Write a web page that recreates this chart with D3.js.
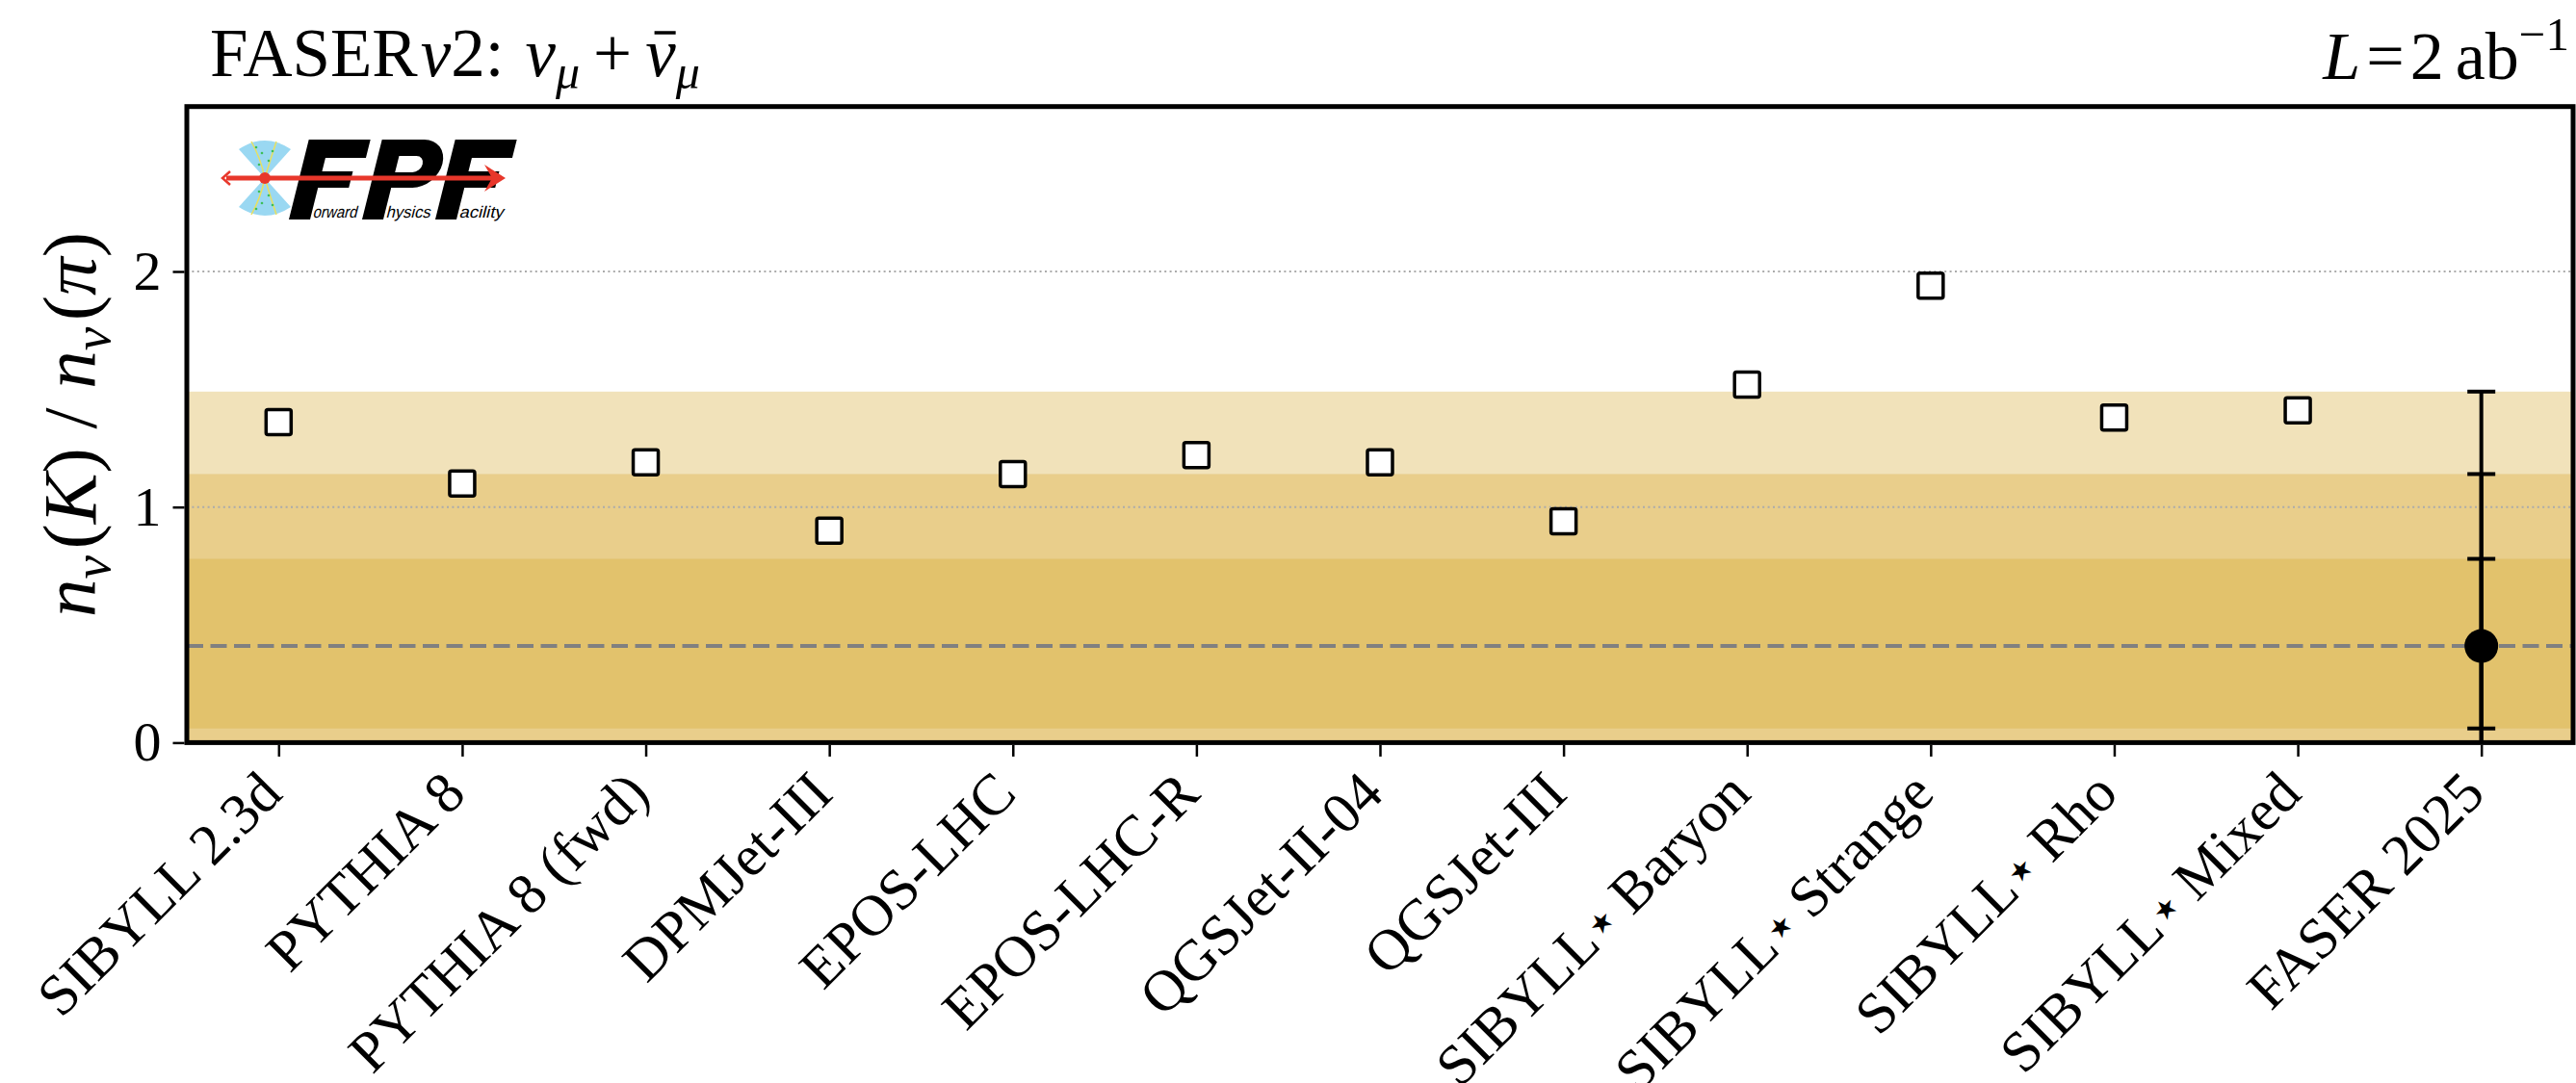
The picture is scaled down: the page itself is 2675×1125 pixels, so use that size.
<!DOCTYPE html>
<html>
<head>
<meta charset="utf-8">
<script src="https://cdn.jsdelivr.net/npm/d3@7"></script>
<style>
  html, body { margin: 0; padding: 0; background: #ffffff; }
  svg { display: block; }
  text { font-family: "Liberation Serif", "Times New Roman", serif; fill: #000; }
</style>
</head>
<body>
<script>
// Generator names along the x axis ("⋆" marks the SIBYLL★ variants)
const models = [
  "SIBYLL 2.3d", "PYTHIA 8", "PYTHIA 8 (fwd)", "DPMJet-III", "EPOS-LHC",
  "EPOS-LHC-R", "QGSJet-II-04", "QGSJet-III", "SIBYLL⋆ Baryon",
  "SIBYLL⋆ Strange", "SIBYLL⋆ Rho", "SIBYLL⋆ Mixed", "FASER 2025"
];
// Predicted n_nu(K)/n_nu(pi) for each generator (all but the last category)
const predictions = [1.36, 1.10, 1.19, 0.90, 1.14, 1.22, 1.19, 0.94, 1.52, 1.94, 1.38, 1.41];
// Projected FASERnu2 measurement: central value and 1/2/3 sigma intervals
const measured = 0.41;
const sigmaUpper = [0.78, 1.14, 1.49];
const sigmaLower = [0.06, -0.32, -0.67];
const bandColors = ["#E2C26C", "#E9CE8B", "#F1E2BA"];
const yTicks = [0, 1, 2];
const yDomain = [0, 2.7];

const W = 2675, H = 1125;
const plot = { left: 194, right: 2672, top: 110.7, bottom: 771.4 };

const svg = d3.select("body").append("svg")
  .attr("width", W).attr("height", H)
  .attr("viewBox", `0 0 ${W} ${H}`);

const x = d3.scaleLinear().domain([-0.5, models.length - 0.5]).range([plot.left, plot.right]);
const y = d3.scaleLinear().domain(yDomain).range([plot.bottom, plot.top]);

svg.append("defs").append("clipPath").attr("id", "plot-clip")
  .append("rect")
  .attr("x", plot.left).attr("y", plot.top)
  .attr("width", plot.right - plot.left).attr("height", plot.bottom - plot.top);

const inner = svg.append("g").attr("clip-path", "url(#plot-clip)");

// sigma bands, widest first
const bands = d3.range(sigmaUpper.length).reverse();
inner.selectAll("rect.band").data(bands).enter().append("rect")
  .attr("class", "band")
  .attr("x", plot.left).attr("width", plot.right - plot.left)
  .attr("y", i => y(sigmaUpper[i]))
  .attr("height", i => y(sigmaLower[i]) - y(sigmaUpper[i]))
  .attr("fill", i => bandColors[i]);

// dotted horizontal grid
inner.selectAll("line.grid").data(yTicks).enter().append("line")
  .attr("class", "grid")
  .attr("x1", plot.left).attr("x2", plot.right)
  .attr("y1", d => y(d)).attr("y2", d => y(d))
  .attr("stroke", "#ababab").attr("stroke-width", 2)
  .attr("stroke-dasharray", "2,3.4");

// central value reference line
inner.append("line")
  .attr("x1", plot.left).attr("x2", plot.right)
  .attr("y1", y(measured)).attr("y2", y(measured))
  .attr("stroke", "#808080").attr("stroke-width", 4)
  .attr("stroke-dasharray", "17,7.5");

// generator predictions: open squares
const sq = 26;
inner.selectAll("rect.pred").data(predictions).enter().append("rect")
  .attr("class", "pred")
  .attr("x", (d, i) => x(i) - sq / 2)
  .attr("y", d => y(d) - sq / 2)
  .attr("width", sq).attr("height", sq)
  .attr("rx", 2)
  .attr("fill", "#ffffff").attr("stroke", "#000").attr("stroke-width", 3.5);

// measurement with nested error bars
const mi = models.length - 1;
const eb = inner.append("g");
sigmaUpper.forEach((up, k) => {
  eb.append("line")
    .attr("x1", x(mi)).attr("x2", x(mi))
    .attr("y1", y(sigmaLower[k])).attr("y2", y(up))
    .attr("stroke", "#000").attr("stroke-width", 4);
  [up, sigmaLower[k]].forEach(v => {
    eb.append("line")
      .attr("x1", x(mi) - 14.5).attr("x2", x(mi) + 14.5)
      .attr("y1", y(v)).attr("y2", y(v))
      .attr("stroke", "#000").attr("stroke-width", 4);
  });
});
eb.append("circle")
  .attr("cx", x(mi)).attr("cy", y(measured)).attr("r", 17.5)
  .attr("fill", "#000");

// axes frame
svg.append("rect")
  .attr("x", plot.left).attr("y", plot.top)
  .attr("width", plot.right - plot.left).attr("height", plot.bottom - plot.top)
  .attr("fill", "none").attr("stroke", "#000").attr("stroke-width", 5);

// y axis
const yAxis = d3.axisLeft(y).tickValues(yTicks).tickFormat(d3.format("d"))
  .tickSize(12).tickPadding(12);
const gy = svg.append("g").attr("transform", `translate(${plot.left - 2.5},0)`).call(yAxis);
gy.select(".domain").remove();
gy.selectAll(".tick line").attr("stroke", "#000").attr("stroke-width", 2.5);
gy.selectAll(".tick text")
  .style("font-family", '"Liberation Serif", serif')
  .attr("font-size", 58).attr("fill", "#000");

// x axis with rotated model names
const xAxis = d3.axisBottom(x).tickValues(d3.range(models.length)).tickSize(12).tickFormat("");
const gx = svg.append("g").attr("transform", `translate(0,${plot.bottom + 2.5})`).call(xAxis);
gx.select(".domain").remove();
gx.selectAll(".tick line").attr("stroke", "#000").attr("stroke-width", 2.5);

const xl = svg.append("g").selectAll("text").data(models).enter().append("text")
  .attr("transform", (d, i) => `translate(${x(i) + 6},${827}) rotate(-45)`)
  .attr("text-anchor", "end")
  .attr("font-size", 60);
xl.each(function (d) {
  const t = d3.select(this);
  const parts = d.split("⋆");
  if (parts.length === 1) { t.text(d); return; }
  t.append("tspan").text(parts[0]);
  t.append("tspan").text("★").attr("font-size", 28)
    .style("font-family", '"DejaVu Sans", sans-serif')
    .attr("dx", 4).attr("dy", -9);
  t.append("tspan").text(parts[1]).attr("dy", 9);
});

// y axis title
const yt = svg.append("text")
  .attr("transform", `translate(99,${(plot.top + plot.bottom) / 2}) rotate(-90)`)
  .attr("text-anchor", "middle")
  .attr("font-size", 79);
const sub = (el, s) => {
  el.append("tspan").text(s).attr("font-style", "italic").attr("font-size", 55).attr("dy", 15);
  el.append("tspan").text("\u200a").attr("dy", -15);
};
yt.append("tspan").text("n").attr("font-style", "italic");
sub(yt, "ν");
yt.append("tspan").text("(");
yt.append("tspan").text("K").attr("font-style", "italic");
yt.append("tspan").text(") / ");
yt.append("tspan").text("n").attr("font-style", "italic");
sub(yt, "ν");
yt.append("tspan").text("(");
yt.append("tspan").text("π").attr("font-style", "italic");
yt.append("tspan").text(")");

// title on the left
const tt = svg.append("text").attr("x", 218).attr("y", 79).attr("font-size", 71);
tt.append("tspan").text("FASER");
tt.append("tspan").text("ν").attr("font-style", "italic").attr("dx", 3);
tt.append("tspan").text("2:");
tt.append("tspan").text("ν").attr("font-style", "italic").attr("dx", 22);
tt.append("tspan").text("μ").attr("font-style", "italic").attr("font-size", 50).attr("dy", 13);
tt.append("tspan").text("+").attr("dy", -13).attr("dx", 14);
const nuBar = tt.append("tspan").text("ν").attr("font-style", "italic").attr("dx", 14);
tt.append("tspan").text("μ").attr("font-style", "italic").attr("font-size", 50).attr("dy", 13);
{
  const e = nuBar.node().getExtentOfChar(0);
  svg.append("line")
    .attr("x1", e.x + e.width * 0.3).attr("x2", e.x + e.width * 1.0)
    .attr("y1", 34).attr("y2", 34)
    .attr("stroke", "#000").attr("stroke-width", 3.5);
}

// luminosity on the right
const lt = svg.append("text").attr("x", 2668).attr("y", 82).attr("text-anchor", "end").attr("font-size", 70);
lt.append("tspan").text("L").attr("font-style", "italic");
lt.append("tspan").text("=").attr("dx", 6);
lt.append("tspan").text("2").attr("dx", 6);
lt.append("tspan").text("ab").attr("dx", 12);
lt.append("tspan").text("−1").attr("font-size", 49).attr("dy", -30);

// FPF logo: detector cones, beam arrow and slanted block letters
const logo = svg.append("g").attr("transform", "translate(275,185)");
const cone = d3.path();
cone.moveTo(0, 0); cone.lineTo(-27, -30);
cone.quadraticCurveTo(0, -48, 27, -30); cone.closePath();
logo.append("path").attr("d", cone.toString()).attr("fill", "#9AD8F2");
logo.append("path").attr("d", cone.toString()).attr("fill", "#9AD8F2").attr("transform", "scale(1,-1)");
[-1, 1].forEach(s => {
  logo.append("path")
    .attr("d", `M0,0 Q${-4},${s * -20} ${-14},${s * -38}`)
    .attr("fill", "none").attr("stroke", "#E8E060").attr("stroke-width", 1.5);
  logo.append("path")
    .attr("d", `M0,0 Q${6},${s * -20} ${12},${s * -38}`)
    .attr("fill", "none").attr("stroke", "#E8E060").attr("stroke-width", 1.5);
  [[-6, -14], [4, -18], [-3, -26], [8, -28], [-9, -32]].forEach(([dx, dy]) => {
    logo.append("circle").attr("cx", dx).attr("cy", s * dy).attr("r", 1.3).attr("fill", "#3DBE5A");
  });
});
const letters = logo.append("g").attr("transform", "translate(25,43) skewX(-14)");
const letterF = ox =>
  `M${ox},0 V-83 H${ox + 64} V-64 H${ox + 22} V-50 H${ox + 54} V-33 H${ox + 22} V-22 H${ox + 22} V0 Z`;
letters.append("path").attr("d", letterF(0)).attr("fill", "#000");
letters.append("path")
  .attr("d", "M76,0 V-83 H120 A25,25 0 0 1 120,-33 H98 V0 Z M98,-66 H116 A8.5,8.5 0 0 1 116,-49 H98 Z")
  .attr("fill", "#000").attr("fill-rule", "evenodd");
letters.append("path").attr("d", letterF(152)).attr("fill", "#000");
[["orward", 23], ["hysics", 99], ["acility", 175]].forEach(([w, ox]) => {
  letters.append("text").attr("x", ox + 1).attr("y", -2)
    .style("font-family", '"Liberation Sans", Arial, sans-serif')
    .attr("font-size", 17).attr("fill", "#000")
    .attr("textLength", 46).attr("lengthAdjust", "spacingAndGlyphs")
    .text(w);
});
logo.append("line").attr("x1", -40).attr("x2", 240).attr("y1", 0).attr("y2", 0)
  .attr("stroke", "#E8372B").attr("stroke-width", 5);
logo.append("path").attr("d", "M228,-14 L250,0 L228,14 L236,0 Z").attr("fill", "#E8372B");
logo.append("path").attr("d", "M-36,-7 L-44,0 L-36,7").attr("fill", "none")
  .attr("stroke", "#E8372B").attr("stroke-width", 2.5);
logo.append("circle").attr("r", 6).attr("fill", "#E8372B");
</script>
</body>
</html>
